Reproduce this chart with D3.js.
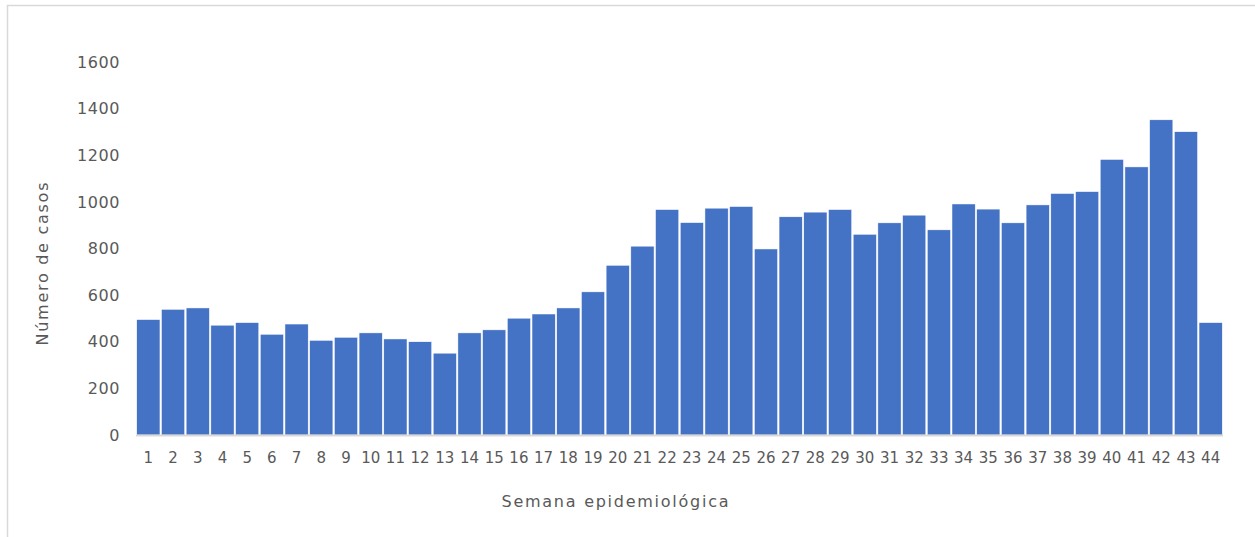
<!DOCTYPE html>
<html>
<head>
<meta charset="utf-8">
<script src="https://cdn.jsdelivr.net/npm/d3@7"></script>
<style>
  html, body { margin: 0; padding: 0; background: #fff; }
  svg { display: block; }
  text { font-family: "DejaVu Sans", Verdana, sans-serif; fill: #595959; }
</style>
</head>
<body>
<svg id="chart" width="1255" height="537"></svg>
<script>
const weeks = d3.range(1, 45).map(String);
const cases = [495, 539, 545, 471, 482, 432, 476, 406, 419, 438,
               412, 400, 351, 438, 451, 501, 519, 545, 614, 728,
               810, 967, 911, 973, 980, 798, 936, 956, 967, 861,
               910, 943, 880, 991, 969, 910, 987, 1036, 1044, 1182,
               1150, 1352, 1301, 482];
const yTicks = [0, 200, 400, 600, 800, 1000, 1200, 1400, 1600];
const yTitle = "Número de casos";
const xTitle = "Semana epidemiológica";

const svg = d3.select("#chart");

// chart frame (left + top borders visible)
svg.append("rect")
  .attr("x", 7.5).attr("y", 5.5)
  .attr("width", 1300).attr("height", 600)
  .attr("fill", "none").attr("stroke", "#d9d9d9").attr("stroke-width", 1.5);

const x = d3.scaleBand().domain(weeks).range([136, 1223]).paddingInner(0.06).paddingOuter(0.03);
const y = d3.scaleLinear().domain([0, 1600]).range([435, 62]);

// bars
svg.append("g").selectAll("rect")
  .data(cases)
  .join("rect")
  .attr("x", (d, i) => x(weeks[i]))
  .attr("width", x.bandwidth())
  .attr("y", d => y(d))
  .attr("height", d => y(0) - y(d))
  .attr("fill", "#4472C4")
  .attr("stroke", "#ffffff")
  .attr("stroke-width", 0.5);

// x axis
const xAxis = svg.append("g")
  .attr("transform", `translate(0,${y(0)})`)
  .call(d3.axisBottom(x).tickSize(0).tickPadding(17.5));
xAxis.select(".domain").attr("stroke", "#d9d9d9").attr("stroke-width", 2)
  .attr("d", `M136,0.5H1223`);
xAxis.selectAll("text")
  .attr("font-size", 15)
  .style("fill", "#595959")
  .attr("font-family", "DejaVu Sans, Verdana, sans-serif");

// y axis
const yAxis = svg.append("g")
  .attr("transform", `translate(120,0)`)
  .call(d3.axisLeft(y).tickValues(yTicks).tickFormat(d3.format("d")).tickSize(0).tickPadding(0));
yAxis.select(".domain").remove();
yAxis.selectAll("text")
  .attr("font-size", 16)
  .attr("letter-spacing", 0.6)
  .style("fill", "#595959")
  .attr("font-family", "DejaVu Sans, Verdana, sans-serif");

// axis titles
svg.append("text")
  .attr("x", 615).attr("y", 507)
  .attr("text-anchor", "middle")
  .attr("font-size", 16)
  .attr("textLength", 227).attr("lengthAdjust", "spacing")
  .text(xTitle);

svg.append("text")
  .attr("transform", `translate(48,${264}) rotate(-90)`)
  .attr("text-anchor", "middle")
  .attr("font-size", 16)
  .attr("textLength", 163).attr("lengthAdjust", "spacing")
  .text(yTitle);
</script>
</body>
</html>
